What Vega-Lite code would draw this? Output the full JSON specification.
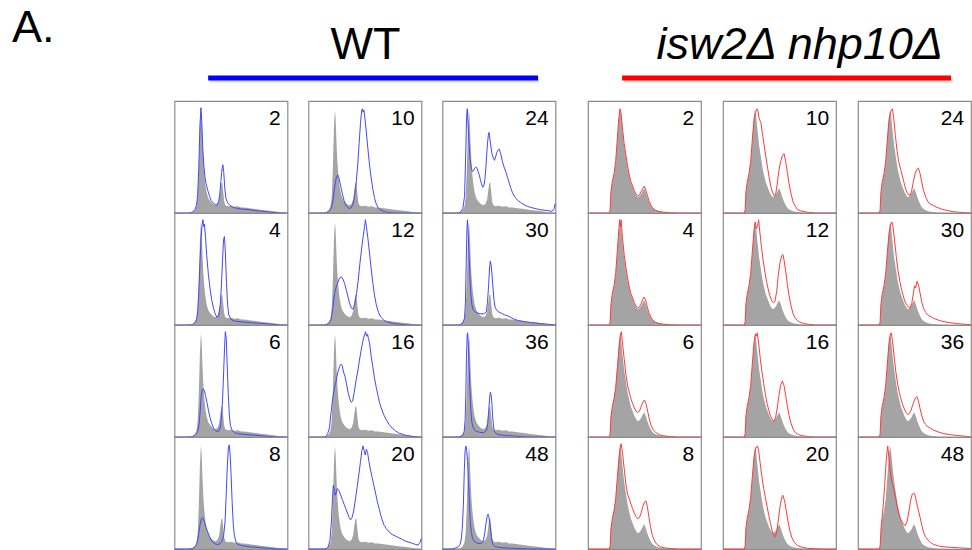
{
"$schema":"https://vega.github.io/schema/vega-lite/v6.json",
"background":"white",
"padding":{"left":12,"top":0,"right":0,"bottom":0},
"autosize":{"type":"pad"},
"spacing":0,
"config":{"view":{"continuousWidth":113,"continuousHeight":112,"stroke":"#8c8c8c","strokeWidth":1.2},"area":{"color":"#a4a4a4","opacity":1},"line":{"strokeWidth":1},"text":{"font":"Liberation Sans","color":"black","fontSize":21,"align":"right","baseline":"alphabetic"}},
"datasets":{
"wg":[{"x":0,"g":0},{"x":10,"g":0},{"x":14,"g":0.5},{"x":16,"g":1},{"x":18,"g":2.5},{"x":19.5,"g":6},{"x":20.5,"g":14},{"x":21.5,"g":38},{"x":22.5,"g":75},{"x":23.3,"g":92},{"x":24,"g":85},{"x":24.8,"g":62},{"x":25.6,"g":45},{"x":26.5,"g":33},{"x":27.5,"g":24},{"x":28.5,"g":18},{"x":30,"g":13},{"x":32,"g":10},{"x":34,"g":8},{"x":36,"g":7},{"x":38,"g":8},{"x":39.5,"g":12},{"x":40.5,"g":20},{"x":41.5,"g":27},{"x":42.3,"g":27},{"x":43.2,"g":18},{"x":44,"g":10},{"x":45,"g":7},{"x":47,"g":6},{"x":50,"g":6.5},{"x":53,"g":5.5},{"x":56,"g":6},{"x":59,"g":5},{"x":62,"g":5},{"x":65,"g":4.5},{"x":68,"g":4},{"x":72,"g":3.5},{"x":76,"g":3},{"x":80,"g":2.5},{"x":84,"g":2},{"x":88,"g":1.5},{"x":92,"g":1},{"x":96,"g":0.5},{"x":100,"g":0}],
"mg":[{"x":0,"g":0},{"x":19,"g":0},{"x":19.6,"g":3},{"x":20.3,"g":18},{"x":21.5,"g":27},{"x":23,"g":34},{"x":24.5,"g":45},{"x":26,"g":65},{"x":27.2,"g":82},{"x":28.3,"g":92},{"x":29.2,"g":88},{"x":30.5,"g":74},{"x":32,"g":60},{"x":33.5,"g":50},{"x":35,"g":40},{"x":36.5,"g":33},{"x":38,"g":27},{"x":39.5,"g":23},{"x":41,"g":19},{"x":42.5,"g":16},{"x":44,"g":14},{"x":45.5,"g":15},{"x":47,"g":17},{"x":48.5,"g":20},{"x":49.8,"g":22},{"x":51,"g":19},{"x":52.5,"g":14},{"x":54,"g":10},{"x":55.5,"g":7},{"x":57,"g":4.5},{"x":59,"g":3},{"x":62,"g":1.5},{"x":66,"g":0.8},{"x":72,"g":0.3},{"x":80,"g":0},{"x":100,"g":0}],
"wl":[
{"t":2,"x":0,"v":0},{"t":2,"x":14,"v":0},{"t":2,"x":16,"v":1},{"t":2,"x":18,"v":3},{"t":2,"x":19.5,"v":7},{"t":2,"x":20.5,"v":16},{"t":2,"x":21.5,"v":40},{"t":2,"x":22.5,"v":78},{"t":2,"x":23.4,"v":94},{"t":2,"x":24.2,"v":80},{"t":2,"x":25,"v":58},{"t":2,"x":26,"v":42},{"t":2,"x":27,"v":32},{"t":2,"x":28,"v":26},{"t":2,"x":29.5,"v":20},{"t":2,"x":31,"v":15},{"t":2,"x":32.5,"v":11},{"t":2,"x":34,"v":9},{"t":2,"x":36,"v":7.5},{"t":2,"x":37.5,"v":7},{"t":2,"x":39,"v":10},{"t":2,"x":40,"v":16},{"t":2,"x":41,"v":28},{"t":2,"x":42,"v":39},{"t":2,"x":42.8,"v":43},{"t":2,"x":43.6,"v":36},{"t":2,"x":44.5,"v":22},{"t":2,"x":45.5,"v":13},{"t":2,"x":47,"v":9},{"t":2,"x":49,"v":7},{"t":2,"x":52,"v":5},{"t":2,"x":56,"v":4},{"t":2,"x":60,"v":3.5},{"t":2,"x":66,"v":3},{"t":2,"x":72,"v":2},{"t":2,"x":78,"v":1.5},{"t":2,"x":84,"v":0.8},{"t":2,"x":90,"v":0.3},{"t":2,"x":95,"v":0},{"t":2,"x":100,"v":0},
{"t":4,"x":0,"v":0},{"t":4,"x":14,"v":0},{"t":4,"x":16,"v":0.5},{"t":4,"x":18,"v":2},{"t":4,"x":19.5,"v":5},{"t":4,"x":20.5,"v":12},{"t":4,"x":21.5,"v":30},{"t":4,"x":22.5,"v":55},{"t":4,"x":23.5,"v":78},{"t":4,"x":24.5,"v":90},{"t":4,"x":25.2,"v":94},{"t":4,"x":25.8,"v":88},{"t":4,"x":26.5,"v":90},{"t":4,"x":27.5,"v":78},{"t":4,"x":28.5,"v":62},{"t":4,"x":30,"v":45},{"t":4,"x":31.5,"v":32},{"t":4,"x":33,"v":22},{"t":4,"x":34.5,"v":15},{"t":4,"x":36,"v":10},{"t":4,"x":37.5,"v":7},{"t":4,"x":39,"v":8},{"t":4,"x":40.5,"v":18},{"t":4,"x":41.5,"v":35},{"t":4,"x":42.5,"v":58},{"t":4,"x":43.4,"v":76},{"t":4,"x":44.2,"v":79},{"t":4,"x":45,"v":65},{"t":4,"x":46,"v":38},{"t":4,"x":47,"v":18},{"t":4,"x":48,"v":9},{"t":4,"x":50,"v":5},{"t":4,"x":53,"v":3.5},{"t":4,"x":57,"v":3},{"t":4,"x":62,"v":2.5},{"t":4,"x":68,"v":2},{"t":4,"x":75,"v":1.5},{"t":4,"x":82,"v":1},{"t":4,"x":88,"v":0.5},{"t":4,"x":94,"v":0},{"t":4,"x":100,"v":0},
{"t":6,"x":0,"v":0},{"t":6,"x":14,"v":0},{"t":6,"x":16,"v":0.5},{"t":6,"x":18,"v":1.5},{"t":6,"x":19.5,"v":3},{"t":6,"x":20.5,"v":5},{"t":6,"x":21.5,"v":10},{"t":6,"x":22.5,"v":20},{"t":6,"x":23.5,"v":35},{"t":6,"x":24.5,"v":42},{"t":6,"x":25.5,"v":43},{"t":6,"x":26.5,"v":41},{"t":6,"x":27.5,"v":37},{"t":6,"x":28.5,"v":32},{"t":6,"x":30,"v":24},{"t":6,"x":31.5,"v":17},{"t":6,"x":33,"v":12},{"t":6,"x":34.5,"v":8},{"t":6,"x":36,"v":6},{"t":6,"x":37.5,"v":5},{"t":6,"x":39,"v":5},{"t":6,"x":40.5,"v":8},{"t":6,"x":41.5,"v":16},{"t":6,"x":42.5,"v":32},{"t":6,"x":43.5,"v":58},{"t":6,"x":44.3,"v":80},{"t":6,"x":45,"v":94},{"t":6,"x":45.8,"v":88},{"t":6,"x":46.6,"v":65},{"t":6,"x":47.5,"v":40},{"t":6,"x":48.5,"v":20},{"t":6,"x":49.5,"v":10},{"t":6,"x":51,"v":6},{"t":6,"x":53,"v":4},{"t":6,"x":56,"v":3},{"t":6,"x":60,"v":2.5},{"t":6,"x":66,"v":2},{"t":6,"x":72,"v":1.5},{"t":6,"x":78,"v":1},{"t":6,"x":84,"v":0.5},{"t":6,"x":90,"v":0},{"t":6,"x":100,"v":0},
{"t":8,"x":0,"v":0},{"t":8,"x":14,"v":0},{"t":8,"x":16,"v":0.5},{"t":8,"x":18,"v":2},{"t":8,"x":19.5,"v":4},{"t":8,"x":20.5,"v":8},{"t":8,"x":21.5,"v":14},{"t":8,"x":22.5,"v":21},{"t":8,"x":23.5,"v":26},{"t":8,"x":24.5,"v":28},{"t":8,"x":25.5,"v":27},{"t":8,"x":26.5,"v":24},{"t":8,"x":28,"v":19},{"t":8,"x":29.5,"v":15},{"t":8,"x":31,"v":11},{"t":8,"x":32.5,"v":8},{"t":8,"x":34,"v":6},{"t":8,"x":36,"v":4.5},{"t":8,"x":38,"v":4},{"t":8,"x":40,"v":4.5},{"t":8,"x":42,"v":7},{"t":8,"x":43.5,"v":12},{"t":8,"x":44.8,"v":25},{"t":8,"x":45.8,"v":50},{"t":8,"x":46.8,"v":75},{"t":8,"x":47.7,"v":90},{"t":8,"x":48.4,"v":93},{"t":8,"x":49.2,"v":85},{"t":8,"x":50,"v":68},{"t":8,"x":51,"v":42},{"t":8,"x":52,"v":22},{"t":8,"x":53,"v":12},{"t":8,"x":54.5,"v":6},{"t":8,"x":56,"v":4},{"t":8,"x":60,"v":3},{"t":8,"x":66,"v":2},{"t":8,"x":72,"v":1.5},{"t":8,"x":78,"v":1},{"t":8,"x":84,"v":0.5},{"t":8,"x":90,"v":0},{"t":8,"x":100,"v":0},
{"t":10,"x":0,"v":0},{"t":10,"x":14,"v":0},{"t":10,"x":16,"v":0.5},{"t":10,"x":18,"v":1.5},{"t":10,"x":20,"v":4},{"t":10,"x":21.5,"v":10},{"t":10,"x":23,"v":22},{"t":10,"x":24.5,"v":31},{"t":10,"x":25.8,"v":34},{"t":10,"x":27,"v":31},{"t":10,"x":28.5,"v":24},{"t":10,"x":30,"v":17},{"t":10,"x":31.5,"v":11},{"t":10,"x":33,"v":7},{"t":10,"x":34.5,"v":5},{"t":10,"x":36,"v":4},{"t":10,"x":37.5,"v":4.5},{"t":10,"x":39,"v":7},{"t":10,"x":40.5,"v":13},{"t":10,"x":42,"v":25},{"t":10,"x":43.5,"v":42},{"t":10,"x":44.8,"v":62},{"t":10,"x":46,"v":80},{"t":10,"x":47,"v":91},{"t":10,"x":47.6,"v":93},{"t":10,"x":48.3,"v":90},{"t":10,"x":49,"v":92},{"t":10,"x":50,"v":84},{"t":10,"x":51,"v":74},{"t":10,"x":52.5,"v":58},{"t":10,"x":54,"v":43},{"t":10,"x":55.5,"v":31},{"t":10,"x":57,"v":21},{"t":10,"x":58.5,"v":13},{"t":10,"x":60,"v":8},{"t":10,"x":62,"v":4},{"t":10,"x":65,"v":2},{"t":10,"x":68,"v":1},{"t":10,"x":72,"v":0.3},{"t":10,"x":78,"v":0},{"t":10,"x":100,"v":0},
{"t":12,"x":0,"v":0},{"t":12,"x":14,"v":0},{"t":12,"x":16,"v":0.5},{"t":12,"x":18,"v":1.5},{"t":12,"x":20,"v":5},{"t":12,"x":21.5,"v":15},{"t":12,"x":23,"v":28},{"t":12,"x":24.5,"v":34},{"t":12,"x":26,"v":38},{"t":12,"x":27.5,"v":42},{"t":12,"x":29,"v":43},{"t":12,"x":30.5,"v":41},{"t":12,"x":32,"v":37},{"t":12,"x":33.5,"v":31},{"t":12,"x":35,"v":25},{"t":12,"x":36.5,"v":19},{"t":12,"x":38,"v":15},{"t":12,"x":39.5,"v":14},{"t":12,"x":41,"v":19},{"t":12,"x":42.5,"v":28},{"t":12,"x":44,"v":40},{"t":12,"x":45.5,"v":55},{"t":12,"x":47,"v":68},{"t":12,"x":48.5,"v":80},{"t":12,"x":49.5,"v":87},{"t":12,"x":50.4,"v":94},{"t":12,"x":51.2,"v":88},{"t":12,"x":52.5,"v":78},{"t":12,"x":54,"v":64},{"t":12,"x":55.5,"v":50},{"t":12,"x":57,"v":37},{"t":12,"x":58.5,"v":26},{"t":12,"x":60,"v":18},{"t":12,"x":62,"v":11},{"t":12,"x":64,"v":7},{"t":12,"x":67,"v":4},{"t":12,"x":70,"v":2.5},{"t":12,"x":74,"v":1.5},{"t":12,"x":78,"v":1},{"t":12,"x":82,"v":0.5},{"t":12,"x":88,"v":0},{"t":12,"x":100,"v":0},
{"t":16,"x":0,"v":0},{"t":16,"x":14,"v":0},{"t":16,"x":15.5,"v":0.5},{"t":16,"x":17,"v":3},{"t":16,"x":18.5,"v":8},{"t":16,"x":20,"v":22},{"t":16,"x":21.5,"v":35},{"t":16,"x":23,"v":44},{"t":16,"x":24.5,"v":50},{"t":16,"x":26,"v":58},{"t":16,"x":27.5,"v":63},{"t":16,"x":28.7,"v":65},{"t":16,"x":29.8,"v":64},{"t":16,"x":31,"v":58},{"t":16,"x":32.3,"v":54},{"t":16,"x":33.5,"v":48},{"t":16,"x":35,"v":40},{"t":16,"x":36.5,"v":34},{"t":16,"x":38,"v":31},{"t":16,"x":39,"v":32},{"t":16,"x":40.5,"v":40},{"t":16,"x":42,"v":50},{"t":16,"x":43.5,"v":58},{"t":16,"x":45,"v":68},{"t":16,"x":46.5,"v":77},{"t":16,"x":48,"v":85},{"t":16,"x":49.5,"v":91},{"t":16,"x":50.5,"v":94},{"t":16,"x":51.3,"v":90},{"t":16,"x":52.2,"v":92},{"t":16,"x":53,"v":88},{"t":16,"x":54,"v":84},{"t":16,"x":55.5,"v":72},{"t":16,"x":57,"v":62},{"t":16,"x":58.5,"v":52},{"t":16,"x":60,"v":44},{"t":16,"x":61.5,"v":37},{"t":16,"x":63,"v":30},{"t":16,"x":65,"v":24},{"t":16,"x":67,"v":19},{"t":16,"x":69,"v":15},{"t":16,"x":71.5,"v":11},{"t":16,"x":74,"v":8},{"t":16,"x":77,"v":5.5},{"t":16,"x":80,"v":3.5},{"t":16,"x":83,"v":2.5},{"t":16,"x":86,"v":1.5},{"t":16,"x":90,"v":0.8},{"t":16,"x":94,"v":0.3},{"t":16,"x":97,"v":0},{"t":16,"x":100,"v":0},
{"t":20,"x":0,"v":0},{"t":20,"x":14,"v":0},{"t":20,"x":16,"v":0.5},{"t":20,"x":17.5,"v":2},{"t":20,"x":19,"v":8},{"t":20,"x":20.3,"v":25},{"t":20,"x":21.2,"v":45},{"t":20,"x":22,"v":57},{"t":20,"x":22.8,"v":52},{"t":20,"x":23.6,"v":48},{"t":20,"x":24.5,"v":50},{"t":20,"x":25.5,"v":54},{"t":20,"x":26.5,"v":53},{"t":20,"x":27.5,"v":51},{"t":20,"x":28.5,"v":48},{"t":20,"x":30,"v":44},{"t":20,"x":31.5,"v":40},{"t":20,"x":33,"v":36},{"t":20,"x":34.5,"v":32},{"t":20,"x":36,"v":28},{"t":20,"x":37.2,"v":26},{"t":20,"x":38.5,"v":28},{"t":20,"x":40,"v":34},{"t":20,"x":41.5,"v":44},{"t":20,"x":43,"v":55},{"t":20,"x":44.5,"v":66},{"t":20,"x":46,"v":78},{"t":20,"x":47.3,"v":88},{"t":20,"x":48.2,"v":92},{"t":20,"x":49.2,"v":88},{"t":20,"x":50.2,"v":84},{"t":20,"x":51.2,"v":89},{"t":20,"x":52.3,"v":86},{"t":20,"x":53.5,"v":78},{"t":20,"x":55,"v":70},{"t":20,"x":56.5,"v":63},{"t":20,"x":58,"v":56},{"t":20,"x":59.5,"v":49},{"t":20,"x":61,"v":42},{"t":20,"x":62.5,"v":36},{"t":20,"x":64,"v":30},{"t":20,"x":65.5,"v":25},{"t":20,"x":67,"v":21},{"t":20,"x":69,"v":18},{"t":20,"x":71.5,"v":15},{"t":20,"x":74,"v":13},{"t":20,"x":77,"v":11.5},{"t":20,"x":80,"v":10},{"t":20,"x":83,"v":8.5},{"t":20,"x":86,"v":7},{"t":20,"x":89,"v":6},{"t":20,"x":92,"v":5},{"t":20,"x":95,"v":4},{"t":20,"x":97,"v":3.5},{"t":20,"x":98.8,"v":6},{"t":20,"x":99.6,"v":9},{"t":20,"x":100,"v":9},
{"t":24,"x":0,"v":0},{"t":24,"x":14,"v":0},{"t":24,"x":16,"v":1},{"t":24,"x":18,"v":4},{"t":24,"x":19.5,"v":15},{"t":24,"x":20.5,"v":50},{"t":24,"x":21.3,"v":85},{"t":24,"x":21.9,"v":93},{"t":24,"x":22.6,"v":80},{"t":24,"x":23.5,"v":62},{"t":24,"x":24.5,"v":48},{"t":24,"x":25.5,"v":40},{"t":24,"x":26.5,"v":37},{"t":24,"x":27.5,"v":38},{"t":24,"x":28.5,"v":40},{"t":24,"x":29.5,"v":41},{"t":24,"x":30.5,"v":40},{"t":24,"x":31.5,"v":37},{"t":24,"x":32.5,"v":34},{"t":24,"x":33.5,"v":30},{"t":24,"x":34.5,"v":26},{"t":24,"x":35.5,"v":23},{"t":24,"x":36.5,"v":24},{"t":24,"x":37.5,"v":30},{"t":24,"x":38.5,"v":42},{"t":24,"x":39.5,"v":58},{"t":24,"x":40.5,"v":69},{"t":24,"x":41.2,"v":72},{"t":24,"x":42,"v":66},{"t":24,"x":43,"v":58},{"t":24,"x":44,"v":52},{"t":24,"x":45,"v":49},{"t":24,"x":46,"v":47},{"t":24,"x":47,"v":50},{"t":24,"x":48,"v":54},{"t":24,"x":49,"v":56},{"t":24,"x":50.2,"v":57},{"t":24,"x":51.5,"v":53},{"t":24,"x":53,"v":46},{"t":24,"x":54.5,"v":41},{"t":24,"x":56,"v":37},{"t":24,"x":57.5,"v":32},{"t":24,"x":59,"v":27},{"t":24,"x":60.5,"v":22},{"t":24,"x":62,"v":18},{"t":24,"x":63.5,"v":15},{"t":24,"x":65,"v":13},{"t":24,"x":67,"v":11},{"t":24,"x":69,"v":9.5},{"t":24,"x":72,"v":7.5},{"t":24,"x":75,"v":6},{"t":24,"x":78,"v":5},{"t":24,"x":82,"v":4},{"t":24,"x":86,"v":3},{"t":24,"x":90,"v":2.5},{"t":24,"x":94,"v":2},{"t":24,"x":97,"v":1.5},{"t":24,"x":98.8,"v":4},{"t":24,"x":99.6,"v":8},{"t":24,"x":100,"v":8},
{"t":30,"x":0,"v":0},{"t":30,"x":14,"v":0},{"t":30,"x":16,"v":0.5},{"t":30,"x":18,"v":2},{"t":30,"x":19.5,"v":6},{"t":30,"x":20.3,"v":20},{"t":30,"x":21,"v":55},{"t":30,"x":21.6,"v":85},{"t":30,"x":22.1,"v":94},{"t":30,"x":22.8,"v":80},{"t":30,"x":23.6,"v":60},{"t":30,"x":24.4,"v":40},{"t":30,"x":25.2,"v":26},{"t":30,"x":26,"v":18},{"t":30,"x":27,"v":14},{"t":30,"x":28.5,"v":12},{"t":30,"x":30,"v":11},{"t":30,"x":32,"v":10.5},{"t":30,"x":34,"v":10},{"t":30,"x":36,"v":10},{"t":30,"x":37.5,"v":10.5},{"t":30,"x":38.8,"v":12},{"t":30,"x":39.8,"v":20},{"t":30,"x":40.8,"v":35},{"t":30,"x":41.6,"v":50},{"t":30,"x":42.3,"v":57},{"t":30,"x":43,"v":54},{"t":30,"x":43.8,"v":45},{"t":30,"x":44.7,"v":33},{"t":30,"x":45.6,"v":22},{"t":30,"x":46.5,"v":16},{"t":30,"x":48,"v":13},{"t":30,"x":50,"v":11.5},{"t":30,"x":52,"v":10.5},{"t":30,"x":55,"v":9},{"t":30,"x":58,"v":8},{"t":30,"x":61,"v":6.5},{"t":30,"x":64,"v":5},{"t":30,"x":67,"v":4},{"t":30,"x":70,"v":3.5},{"t":30,"x":74,"v":2.8},{"t":30,"x":78,"v":2.2},{"t":30,"x":82,"v":1.8},{"t":30,"x":86,"v":1.3},{"t":30,"x":90,"v":1},{"t":30,"x":94,"v":0.6},{"t":30,"x":97,"v":0.4},{"t":30,"x":100,"v":0},
{"t":36,"x":0,"v":0},{"t":36,"x":14,"v":0},{"t":36,"x":16,"v":0.5},{"t":36,"x":18,"v":1.5},{"t":36,"x":19.2,"v":5},{"t":36,"x":20,"v":15},{"t":36,"x":20.6,"v":35},{"t":36,"x":21.2,"v":70},{"t":36,"x":21.8,"v":90},{"t":36,"x":22.2,"v":93},{"t":36,"x":22.8,"v":82},{"t":36,"x":23.6,"v":60},{"t":36,"x":24.4,"v":40},{"t":36,"x":25.2,"v":22},{"t":36,"x":26,"v":13},{"t":36,"x":27,"v":9},{"t":36,"x":28.5,"v":6},{"t":36,"x":30,"v":5},{"t":36,"x":32,"v":4.5},{"t":36,"x":34,"v":4},{"t":36,"x":36,"v":4},{"t":36,"x":37.5,"v":4.5},{"t":36,"x":39,"v":6},{"t":36,"x":40,"v":12},{"t":36,"x":41,"v":25},{"t":36,"x":41.8,"v":36},{"t":36,"x":42.4,"v":40},{"t":36,"x":43,"v":38},{"t":36,"x":43.7,"v":30},{"t":36,"x":44.4,"v":18},{"t":36,"x":45.2,"v":9},{"t":36,"x":46,"v":5},{"t":36,"x":47.5,"v":3},{"t":36,"x":50,"v":2},{"t":36,"x":54,"v":1.5},{"t":36,"x":58,"v":1.2},{"t":36,"x":62,"v":1},{"t":36,"x":66,"v":0.6},{"t":36,"x":70,"v":0.3},{"t":36,"x":74,"v":0},{"t":36,"x":100,"v":0},
{"t":48,"x":0,"v":0},{"t":48,"x":8,"v":0},{"t":48,"x":10,"v":0.5},{"t":48,"x":12,"v":1},{"t":48,"x":14,"v":2},{"t":48,"x":15.5,"v":4},{"t":48,"x":16.5,"v":8},{"t":48,"x":17.5,"v":18},{"t":48,"x":18.5,"v":40},{"t":48,"x":19.3,"v":70},{"t":48,"x":20,"v":88},{"t":48,"x":20.7,"v":92},{"t":48,"x":21.4,"v":88},{"t":48,"x":22.2,"v":78},{"t":48,"x":23,"v":60},{"t":48,"x":23.8,"v":40},{"t":48,"x":24.6,"v":24},{"t":48,"x":25.5,"v":15},{"t":48,"x":26.5,"v":10},{"t":48,"x":28,"v":7},{"t":48,"x":30,"v":5.5},{"t":48,"x":32,"v":5},{"t":48,"x":34,"v":5},{"t":48,"x":35.5,"v":6},{"t":48,"x":36.5,"v":9},{"t":48,"x":37.5,"v":15},{"t":48,"x":38.5,"v":23},{"t":48,"x":39.5,"v":29},{"t":48,"x":40.3,"v":31},{"t":48,"x":41,"v":29},{"t":48,"x":41.8,"v":24},{"t":48,"x":42.6,"v":17},{"t":48,"x":43.4,"v":10},{"t":48,"x":44.2,"v":5},{"t":48,"x":45.5,"v":3},{"t":48,"x":47,"v":2},{"t":48,"x":50,"v":1.5},{"t":48,"x":55,"v":1},{"t":48,"x":60,"v":0.8},{"t":48,"x":66,"v":0.5},{"t":48,"x":72,"v":0.2},{"t":48,"x":78,"v":0},{"t":48,"x":100,"v":0}
],
"ml":[
{"t":2,"x":0,"v":0},{"t":2,"x":19,"v":0},{"t":2,"x":19.6,"v":3},{"t":2,"x":20.3,"v":19},{"t":2,"x":21.5,"v":28},{"t":2,"x":23,"v":35},{"t":2,"x":24.5,"v":46},{"t":2,"x":26,"v":67},{"t":2,"x":27.2,"v":84},{"t":2,"x":28.3,"v":93},{"t":2,"x":29.2,"v":90},{"t":2,"x":30.5,"v":76},{"t":2,"x":32,"v":62},{"t":2,"x":33.5,"v":52},{"t":2,"x":35,"v":42},{"t":2,"x":36.5,"v":34},{"t":2,"x":38,"v":28},{"t":2,"x":39.5,"v":24},{"t":2,"x":41,"v":20},{"t":2,"x":42.5,"v":17},{"t":2,"x":44,"v":15},{"t":2,"x":45.5,"v":16},{"t":2,"x":47,"v":19},{"t":2,"x":48.5,"v":22},{"t":2,"x":49.8,"v":24},{"t":2,"x":51,"v":21},{"t":2,"x":52.5,"v":16},{"t":2,"x":54,"v":11},{"t":2,"x":55.5,"v":7.5},{"t":2,"x":57,"v":5},{"t":2,"x":59,"v":3},{"t":2,"x":62,"v":1.5},{"t":2,"x":66,"v":0.8},{"t":2,"x":72,"v":0.3},{"t":2,"x":80,"v":0},{"t":2,"x":100,"v":0},
{"t":4,"x":0,"v":0},{"t":4,"x":19,"v":0},{"t":4,"x":19.6,"v":3},{"t":4,"x":20.3,"v":18},{"t":4,"x":21.5,"v":28},{"t":4,"x":23,"v":35},{"t":4,"x":24.5,"v":46},{"t":4,"x":26,"v":67},{"t":4,"x":27.3,"v":86},{"t":4,"x":28,"v":94},{"t":4,"x":28.6,"v":88},{"t":4,"x":29.3,"v":94},{"t":4,"x":30.5,"v":78},{"t":4,"x":32,"v":63},{"t":4,"x":33.5,"v":52},{"t":4,"x":35,"v":42},{"t":4,"x":36.5,"v":34},{"t":4,"x":38,"v":28},{"t":4,"x":39.5,"v":24},{"t":4,"x":41,"v":20},{"t":4,"x":42.5,"v":17},{"t":4,"x":44,"v":15},{"t":4,"x":45.5,"v":16},{"t":4,"x":47,"v":19},{"t":4,"x":48.5,"v":23},{"t":4,"x":49.8,"v":25},{"t":4,"x":51,"v":22},{"t":4,"x":52.5,"v":16},{"t":4,"x":54,"v":11},{"t":4,"x":55.5,"v":7.5},{"t":4,"x":57,"v":5},{"t":4,"x":59,"v":3},{"t":4,"x":62,"v":1.5},{"t":4,"x":66,"v":0.8},{"t":4,"x":72,"v":0.3},{"t":4,"x":80,"v":0},{"t":4,"x":100,"v":0},
{"t":6,"x":0,"v":0},{"t":6,"x":19,"v":0},{"t":6,"x":19.6,"v":3},{"t":6,"x":20.3,"v":18},{"t":6,"x":21.5,"v":27},{"t":6,"x":23,"v":34},{"t":6,"x":24.5,"v":44},{"t":6,"x":26,"v":62},{"t":6,"x":27.5,"v":80},{"t":6,"x":28.5,"v":90},{"t":6,"x":29.5,"v":94},{"t":6,"x":30.5,"v":84},{"t":6,"x":32,"v":70},{"t":6,"x":33.5,"v":56},{"t":6,"x":35,"v":46},{"t":6,"x":36.5,"v":40},{"t":6,"x":38,"v":34},{"t":6,"x":39.5,"v":30},{"t":6,"x":41,"v":26},{"t":6,"x":42.5,"v":23},{"t":6,"x":44,"v":22},{"t":6,"x":45.5,"v":23},{"t":6,"x":47,"v":27},{"t":6,"x":48.5,"v":31},{"t":6,"x":50,"v":33},{"t":6,"x":51.5,"v":29},{"t":6,"x":53,"v":22},{"t":6,"x":54.5,"v":15},{"t":6,"x":56,"v":10},{"t":6,"x":58,"v":6},{"t":6,"x":60,"v":4},{"t":6,"x":63,"v":2},{"t":6,"x":67,"v":1},{"t":6,"x":73,"v":0.4},{"t":6,"x":80,"v":0},{"t":6,"x":100,"v":0},
{"t":8,"x":0,"v":0},{"t":8,"x":19,"v":0},{"t":8,"x":19.6,"v":3},{"t":8,"x":20.3,"v":18},{"t":8,"x":21.5,"v":27},{"t":8,"x":23,"v":34},{"t":8,"x":24.5,"v":45},{"t":8,"x":26,"v":64},{"t":8,"x":27.5,"v":82},{"t":8,"x":28.5,"v":91},{"t":8,"x":29.3,"v":94},{"t":8,"x":30.5,"v":86},{"t":8,"x":32,"v":72},{"t":8,"x":33.5,"v":58},{"t":8,"x":35,"v":49},{"t":8,"x":36.5,"v":45},{"t":8,"x":38,"v":40},{"t":8,"x":39.5,"v":36},{"t":8,"x":41,"v":32},{"t":8,"x":42.5,"v":29},{"t":8,"x":44,"v":27},{"t":8,"x":45.5,"v":28},{"t":8,"x":47,"v":32},{"t":8,"x":48.5,"v":38},{"t":8,"x":50,"v":42},{"t":8,"x":51.3,"v":43},{"t":8,"x":52.5,"v":38},{"t":8,"x":54,"v":28},{"t":8,"x":55.5,"v":19},{"t":8,"x":57,"v":12},{"t":8,"x":59,"v":7},{"t":8,"x":61,"v":4},{"t":8,"x":64,"v":2},{"t":8,"x":68,"v":1},{"t":8,"x":74,"v":0.3},{"t":8,"x":80,"v":0},{"t":8,"x":100,"v":0},
{"t":10,"x":0,"v":0},{"t":10,"x":19,"v":0},{"t":10,"x":19.6,"v":3},{"t":10,"x":20.3,"v":19},{"t":10,"x":21.5,"v":28},{"t":10,"x":23,"v":35},{"t":10,"x":24.5,"v":46},{"t":10,"x":26,"v":66},{"t":10,"x":27.5,"v":84},{"t":10,"x":28.7,"v":90},{"t":10,"x":30,"v":93},{"t":10,"x":31,"v":91},{"t":10,"x":32,"v":84},{"t":10,"x":33.5,"v":81},{"t":10,"x":35,"v":70},{"t":10,"x":36.5,"v":60},{"t":10,"x":38,"v":50},{"t":10,"x":39.5,"v":40},{"t":10,"x":41,"v":31},{"t":10,"x":42.5,"v":23},{"t":10,"x":44,"v":18},{"t":10,"x":45.5,"v":15},{"t":10,"x":46.5,"v":16},{"t":10,"x":48,"v":26},{"t":10,"x":49.5,"v":38},{"t":10,"x":51,"v":46},{"t":10,"x":52.5,"v":51},{"t":10,"x":54,"v":53},{"t":10,"x":55.5,"v":46},{"t":10,"x":57,"v":36},{"t":10,"x":58.5,"v":26},{"t":10,"x":60,"v":18},{"t":10,"x":62,"v":10},{"t":10,"x":64,"v":6},{"t":10,"x":66,"v":3},{"t":10,"x":70,"v":1.5},{"t":10,"x":76,"v":0.5},{"t":10,"x":82,"v":0},{"t":10,"x":100,"v":0},
{"t":12,"x":0,"v":0},{"t":12,"x":19,"v":0},{"t":12,"x":19.6,"v":3},{"t":12,"x":20.3,"v":19},{"t":12,"x":21.5,"v":28},{"t":12,"x":23,"v":35},{"t":12,"x":24.5,"v":46},{"t":12,"x":26,"v":66},{"t":12,"x":27.5,"v":85},{"t":12,"x":28.5,"v":92},{"t":12,"x":29.5,"v":86},{"t":12,"x":30.5,"v":88},{"t":12,"x":31.5,"v":94},{"t":12,"x":32.5,"v":84},{"t":12,"x":34,"v":70},{"t":12,"x":35.5,"v":58},{"t":12,"x":37,"v":48},{"t":12,"x":38.5,"v":39},{"t":12,"x":40,"v":32},{"t":12,"x":41.5,"v":26},{"t":12,"x":43,"v":22},{"t":12,"x":44.5,"v":20},{"t":12,"x":46,"v":21},{"t":12,"x":47.5,"v":30},{"t":12,"x":49,"v":45},{"t":12,"x":50.5,"v":56},{"t":12,"x":52,"v":62},{"t":12,"x":53,"v":63},{"t":12,"x":54,"v":58},{"t":12,"x":55.5,"v":48},{"t":12,"x":57,"v":36},{"t":12,"x":58.5,"v":26},{"t":12,"x":60,"v":18},{"t":12,"x":62,"v":10},{"t":12,"x":64,"v":6},{"t":12,"x":67,"v":3},{"t":12,"x":71,"v":1.5},{"t":12,"x":76,"v":0.5},{"t":12,"x":82,"v":0},{"t":12,"x":100,"v":0},
{"t":16,"x":0,"v":0},{"t":16,"x":19,"v":0},{"t":16,"x":19.6,"v":3},{"t":16,"x":20.3,"v":19},{"t":16,"x":21.5,"v":28},{"t":16,"x":23,"v":35},{"t":16,"x":24.5,"v":46},{"t":16,"x":26,"v":66},{"t":16,"x":27.5,"v":85},{"t":16,"x":28.7,"v":92},{"t":16,"x":29.5,"v":90},{"t":16,"x":30.3,"v":93},{"t":16,"x":31.5,"v":84},{"t":16,"x":33,"v":70},{"t":16,"x":34.5,"v":58},{"t":16,"x":36,"v":48},{"t":16,"x":37.5,"v":38},{"t":16,"x":39,"v":30},{"t":16,"x":40.5,"v":24},{"t":16,"x":42,"v":19},{"t":16,"x":43.5,"v":16},{"t":16,"x":45,"v":14},{"t":16,"x":46.5,"v":17},{"t":16,"x":48,"v":26},{"t":16,"x":49.5,"v":37},{"t":16,"x":51,"v":46},{"t":16,"x":52.5,"v":50},{"t":16,"x":54,"v":46},{"t":16,"x":55.5,"v":37},{"t":16,"x":57,"v":27},{"t":16,"x":58.5,"v":19},{"t":16,"x":60,"v":13},{"t":16,"x":62,"v":7},{"t":16,"x":64,"v":4},{"t":16,"x":67,"v":2},{"t":16,"x":71,"v":1},{"t":16,"x":76,"v":0.3},{"t":16,"x":82,"v":0},{"t":16,"x":100,"v":0},
{"t":20,"x":0,"v":0},{"t":20,"x":19,"v":0},{"t":20,"x":19.6,"v":3},{"t":20,"x":20.3,"v":19},{"t":20,"x":21.5,"v":28},{"t":20,"x":23,"v":35},{"t":20,"x":24.5,"v":46},{"t":20,"x":26,"v":65},{"t":20,"x":27.5,"v":82},{"t":20,"x":29,"v":90},{"t":20,"x":30.5,"v":92},{"t":20,"x":31.5,"v":88},{"t":20,"x":33,"v":76},{"t":20,"x":34.5,"v":64},{"t":20,"x":36,"v":54},{"t":20,"x":37.5,"v":46},{"t":20,"x":39,"v":38},{"t":20,"x":40.5,"v":30},{"t":20,"x":42,"v":23},{"t":20,"x":43.5,"v":16},{"t":20,"x":45,"v":12},{"t":20,"x":46.3,"v":11},{"t":20,"x":47.5,"v":15},{"t":20,"x":49,"v":26},{"t":20,"x":50.5,"v":38},{"t":20,"x":52,"v":46},{"t":20,"x":53,"v":48},{"t":20,"x":54.5,"v":43},{"t":20,"x":56,"v":34},{"t":20,"x":57.5,"v":25},{"t":20,"x":59,"v":17},{"t":20,"x":61,"v":10},{"t":20,"x":63,"v":6},{"t":20,"x":66,"v":3},{"t":20,"x":70,"v":1.5},{"t":20,"x":75,"v":0.6},{"t":20,"x":82,"v":0.2},{"t":20,"x":90,"v":0},{"t":20,"x":100,"v":0},
{"t":24,"x":0,"v":0},{"t":24,"x":19,"v":0},{"t":24,"x":19.6,"v":3},{"t":24,"x":20.3,"v":19},{"t":24,"x":21.5,"v":28},{"t":24,"x":23,"v":35},{"t":24,"x":24.5,"v":46},{"t":24,"x":26,"v":66},{"t":24,"x":27.5,"v":84},{"t":24,"x":29,"v":91},{"t":24,"x":30.4,"v":93},{"t":24,"x":31.5,"v":86},{"t":24,"x":33,"v":70},{"t":24,"x":34.5,"v":56},{"t":24,"x":36,"v":46},{"t":24,"x":37.5,"v":40},{"t":24,"x":39,"v":34},{"t":24,"x":40.5,"v":28},{"t":24,"x":42,"v":22},{"t":24,"x":43.5,"v":18},{"t":24,"x":45,"v":16},{"t":24,"x":46.3,"v":16},{"t":24,"x":47.5,"v":20},{"t":24,"x":49,"v":28},{"t":24,"x":50.5,"v":35},{"t":24,"x":52,"v":39},{"t":24,"x":53.4,"v":40},{"t":24,"x":55,"v":35},{"t":24,"x":56.5,"v":27},{"t":24,"x":58,"v":20},{"t":24,"x":60,"v":14},{"t":24,"x":62,"v":10},{"t":24,"x":64,"v":8},{"t":24,"x":67,"v":6.5},{"t":24,"x":70,"v":5},{"t":24,"x":74,"v":3.5},{"t":24,"x":78,"v":2.5},{"t":24,"x":84,"v":1.2},{"t":24,"x":90,"v":0.6},{"t":24,"x":96,"v":0.2},{"t":24,"x":100,"v":0},
{"t":30,"x":0,"v":0},{"t":30,"x":19,"v":0},{"t":30,"x":19.6,"v":3},{"t":30,"x":20.3,"v":19},{"t":30,"x":21.5,"v":28},{"t":30,"x":23,"v":35},{"t":30,"x":24.5,"v":46},{"t":30,"x":26,"v":65},{"t":30,"x":27.5,"v":82},{"t":30,"x":29,"v":90},{"t":30,"x":30,"v":92},{"t":30,"x":31,"v":88},{"t":30,"x":32.5,"v":74},{"t":30,"x":34,"v":60},{"t":30,"x":35.5,"v":48},{"t":30,"x":37,"v":39},{"t":30,"x":38.5,"v":32},{"t":30,"x":40,"v":26},{"t":30,"x":41.5,"v":21},{"t":30,"x":43,"v":18},{"t":30,"x":44.5,"v":16},{"t":30,"x":46,"v":15},{"t":30,"x":47.5,"v":19},{"t":30,"x":49,"v":28},{"t":30,"x":50,"v":35},{"t":30,"x":51,"v":33},{"t":30,"x":52.2,"v":39},{"t":30,"x":53.5,"v":36},{"t":30,"x":55,"v":28},{"t":30,"x":56.5,"v":20},{"t":30,"x":58,"v":15},{"t":30,"x":60,"v":11},{"t":30,"x":62,"v":9},{"t":30,"x":65,"v":7},{"t":30,"x":68,"v":5.5},{"t":30,"x":72,"v":4},{"t":30,"x":76,"v":3},{"t":30,"x":82,"v":2},{"t":30,"x":88,"v":1.2},{"t":30,"x":94,"v":0.7},{"t":30,"x":99,"v":0.4},{"t":30,"x":100,"v":0},
{"t":36,"x":0,"v":0},{"t":36,"x":19,"v":0},{"t":36,"x":19.6,"v":3},{"t":36,"x":20.3,"v":19},{"t":36,"x":21.5,"v":28},{"t":36,"x":23,"v":35},{"t":36,"x":24.5,"v":46},{"t":36,"x":26,"v":66},{"t":36,"x":27.5,"v":85},{"t":36,"x":28.7,"v":92},{"t":36,"x":29.5,"v":93},{"t":36,"x":30.5,"v":86},{"t":36,"x":32,"v":72},{"t":36,"x":33.5,"v":58},{"t":36,"x":35,"v":48},{"t":36,"x":36.5,"v":40},{"t":36,"x":38,"v":34},{"t":36,"x":39.5,"v":29},{"t":36,"x":41,"v":25},{"t":36,"x":42.5,"v":22},{"t":36,"x":44,"v":20},{"t":36,"x":45.5,"v":21},{"t":36,"x":47,"v":24},{"t":36,"x":48.5,"v":29},{"t":36,"x":50,"v":33},{"t":36,"x":51,"v":35},{"t":36,"x":52.2,"v":36},{"t":36,"x":53.5,"v":32},{"t":36,"x":55,"v":25},{"t":36,"x":56.5,"v":19},{"t":36,"x":58,"v":14},{"t":36,"x":60,"v":11},{"t":36,"x":62,"v":9},{"t":36,"x":64,"v":8},{"t":36,"x":67,"v":6},{"t":36,"x":71,"v":4.5},{"t":36,"x":76,"v":3},{"t":36,"x":82,"v":2},{"t":36,"x":88,"v":1.3},{"t":36,"x":94,"v":0.8},{"t":36,"x":100,"v":0},
{"t":48,"x":0,"v":0},{"t":48,"x":19,"v":0},{"t":48,"x":19.6,"v":3},{"t":48,"x":20.5,"v":20},{"t":48,"x":22,"v":35},{"t":48,"x":23.5,"v":55},{"t":48,"x":25,"v":80},{"t":48,"x":26.3,"v":92},{"t":48,"x":27.5,"v":80},{"t":48,"x":28.5,"v":70},{"t":48,"x":30,"v":60},{"t":48,"x":31.6,"v":54},{"t":48,"x":33,"v":47},{"t":48,"x":34.5,"v":39},{"t":48,"x":36,"v":32},{"t":48,"x":37.5,"v":27},{"t":48,"x":39,"v":24},{"t":48,"x":40.5,"v":22},{"t":48,"x":42,"v":21},{"t":48,"x":43.5,"v":25},{"t":48,"x":45,"v":33},{"t":48,"x":46.5,"v":43},{"t":48,"x":48,"v":49},{"t":48,"x":49.3,"v":50},{"t":48,"x":50.5,"v":48},{"t":48,"x":52,"v":41},{"t":48,"x":53.5,"v":34},{"t":48,"x":55,"v":28},{"t":48,"x":56.5,"v":21},{"t":48,"x":58,"v":15},{"t":48,"x":59.6,"v":11},{"t":48,"x":62,"v":8},{"t":48,"x":64,"v":6},{"t":48,"x":67,"v":4},{"t":48,"x":72,"v":2.5},{"t":48,"x":77,"v":1.8},{"t":48,"x":82,"v":1.5},{"t":48,"x":90,"v":1},{"t":48,"x":95,"v":0.7},{"t":48,"x":99,"v":0.5},{"t":48,"x":100,"v":0}
]
},
"vconcat":[
{"hconcat":[
{"width":131,"height":100,"view":{"stroke":null},"data":{"values":[{}]},"mark":{"type":"text","text":"A.","fontSize":45,"align":"left"},"encoding":{"x":{"datum":0,"type":"quantitative","scale":{"domain":[0,1]},"axis":null},"y":{"datum":0.58,"type":"quantitative","scale":{"domain":[0,1]},"axis":null}}},
{"width":381,"height":100,"view":{"stroke":null},"data":{"values":[{}]},
"layer":[
{"mark":{"type":"text","fontSize":45,"align":"center"},"encoding":{"x":{"datum":0.5,"type":"quantitative","scale":{"domain":[0,1]},"axis":null},"y":{"datum":0.41,"type":"quantitative","scale":{"domain":[0,1]},"axis":null},"text":{"value":"WT"}}},
{"mark":{"type":"rule","color":"#c8c8c8","strokeWidth":4,"opacity":0.7},"encoding":{"x":{"datum":0.092,"type":"quantitative"},"x2":{"datum":0.955},"y":{"datum":0.195,"type":"quantitative"}}},
{"mark":{"type":"rule","color":"#0000ff","strokeWidth":5},"encoding":{"x":{"datum":0.087,"type":"quantitative"},"x2":{"datum":0.953},"y":{"datum":0.22,"type":"quantitative"}}}
]},
{"width":383,"height":100,"view":{"stroke":null},"data":{"values":[{}]},
"layer":[
{"mark":{"type":"text","fontSize":45,"fontStyle":"italic","align":"center"},"encoding":{"x":{"datum":0.553,"type":"quantitative","scale":{"domain":[0,1]},"axis":null},"y":{"datum":0.41,"type":"quantitative","scale":{"domain":[0,1]},"axis":null},"text":{"value":"isw2Δ nhp10Δ"}}},
{"mark":{"type":"rule","color":"#c8c8c8","strokeWidth":4,"opacity":0.7},"encoding":{"x":{"datum":0.094,"type":"quantitative"},"x2":{"datum":0.952},"y":{"datum":0.195,"type":"quantitative"}}},
{"mark":{"type":"rule","color":"#ff0000","strokeWidth":5},"encoding":{"x":{"datum":0.089,"type":"quantitative"},"x2":{"datum":0.948},"y":{"datum":0.22,"type":"quantitative"}}}
]}
],"spacing":32},
{"hconcat":[
{"width":133,"height":10,"view":{"stroke":null},"data":{"values":[]},"mark":"point","encoding":{}},
{"concat":[
{"layer":[{"data":{"name":"wg"},"mark":"area","encoding":{"x":{"field":"x","type":"quantitative","scale":{"domain":[0,100]},"axis":null},"y":{"field":"g","type":"quantitative","scale":{"domain":[0,100]},"axis":null}}},{"data":{"name":"wl"},"transform":[{"filter":"datum.t==2"}],"mark":{"type":"line","color":"#4646ff"},"encoding":{"x":{"field":"x","type":"quantitative"},"y":{"field":"v","type":"quantitative"}}},{"data":{"values":[{}]},"mark":{"type":"text","text":"2"},"encoding":{"x":{"datum":94},"y":{"datum":78.5}}}]},
{"layer":[{"data":{"name":"wg"},"mark":"area","encoding":{"x":{"field":"x","type":"quantitative","scale":{"domain":[0,100]},"axis":null},"y":{"field":"g","type":"quantitative","scale":{"domain":[0,100]},"axis":null}}},{"data":{"name":"wl"},"transform":[{"filter":"datum.t==10"}],"mark":{"type":"line","color":"#4646ff"},"encoding":{"x":{"field":"x","type":"quantitative"},"y":{"field":"v","type":"quantitative"}}},{"data":{"values":[{}]},"mark":{"type":"text","text":"10"},"encoding":{"x":{"datum":94},"y":{"datum":78.5}}}]},
{"layer":[{"data":{"name":"wg"},"mark":"area","encoding":{"x":{"field":"x","type":"quantitative","scale":{"domain":[0,100]},"axis":null},"y":{"field":"g","type":"quantitative","scale":{"domain":[0,100]},"axis":null}}},{"data":{"name":"wl"},"transform":[{"filter":"datum.t==24"}],"mark":{"type":"line","color":"#4646ff"},"encoding":{"x":{"field":"x","type":"quantitative"},"y":{"field":"v","type":"quantitative"}}},{"data":{"values":[{}]},"mark":{"type":"text","text":"24"},"encoding":{"x":{"datum":94},"y":{"datum":78.5}}}]},
{"layer":[{"data":{"name":"wg"},"mark":"area","encoding":{"x":{"field":"x","type":"quantitative","scale":{"domain":[0,100]},"axis":null},"y":{"field":"g","type":"quantitative","scale":{"domain":[0,100]},"axis":null}}},{"data":{"name":"wl"},"transform":[{"filter":"datum.t==4"}],"mark":{"type":"line","color":"#4646ff"},"encoding":{"x":{"field":"x","type":"quantitative"},"y":{"field":"v","type":"quantitative"}}},{"data":{"values":[{}]},"mark":{"type":"text","text":"4"},"encoding":{"x":{"datum":94},"y":{"datum":78.5}}}]},
{"layer":[{"data":{"name":"wg"},"mark":"area","encoding":{"x":{"field":"x","type":"quantitative","scale":{"domain":[0,100]},"axis":null},"y":{"field":"g","type":"quantitative","scale":{"domain":[0,100]},"axis":null}}},{"data":{"name":"wl"},"transform":[{"filter":"datum.t==12"}],"mark":{"type":"line","color":"#4646ff"},"encoding":{"x":{"field":"x","type":"quantitative"},"y":{"field":"v","type":"quantitative"}}},{"data":{"values":[{}]},"mark":{"type":"text","text":"12"},"encoding":{"x":{"datum":94},"y":{"datum":78.5}}}]},
{"layer":[{"data":{"name":"wg"},"mark":"area","encoding":{"x":{"field":"x","type":"quantitative","scale":{"domain":[0,100]},"axis":null},"y":{"field":"g","type":"quantitative","scale":{"domain":[0,100]},"axis":null}}},{"data":{"name":"wl"},"transform":[{"filter":"datum.t==30"}],"mark":{"type":"line","color":"#4646ff"},"encoding":{"x":{"field":"x","type":"quantitative"},"y":{"field":"v","type":"quantitative"}}},{"data":{"values":[{}]},"mark":{"type":"text","text":"30"},"encoding":{"x":{"datum":94},"y":{"datum":78.5}}}]},
{"layer":[{"data":{"name":"wg"},"mark":"area","encoding":{"x":{"field":"x","type":"quantitative","scale":{"domain":[0,100]},"axis":null},"y":{"field":"g","type":"quantitative","scale":{"domain":[0,100]},"axis":null}}},{"data":{"name":"wl"},"transform":[{"filter":"datum.t==6"}],"mark":{"type":"line","color":"#4646ff"},"encoding":{"x":{"field":"x","type":"quantitative"},"y":{"field":"v","type":"quantitative"}}},{"data":{"values":[{}]},"mark":{"type":"text","text":"6"},"encoding":{"x":{"datum":94},"y":{"datum":78.5}}}]},
{"layer":[{"data":{"name":"wg"},"mark":"area","encoding":{"x":{"field":"x","type":"quantitative","scale":{"domain":[0,100]},"axis":null},"y":{"field":"g","type":"quantitative","scale":{"domain":[0,100]},"axis":null}}},{"data":{"name":"wl"},"transform":[{"filter":"datum.t==16"}],"mark":{"type":"line","color":"#4646ff"},"encoding":{"x":{"field":"x","type":"quantitative"},"y":{"field":"v","type":"quantitative"}}},{"data":{"values":[{}]},"mark":{"type":"text","text":"16"},"encoding":{"x":{"datum":94},"y":{"datum":78.5}}}]},
{"layer":[{"data":{"name":"wg"},"mark":"area","encoding":{"x":{"field":"x","type":"quantitative","scale":{"domain":[0,100]},"axis":null},"y":{"field":"g","type":"quantitative","scale":{"domain":[0,100]},"axis":null}}},{"data":{"name":"wl"},"transform":[{"filter":"datum.t==36"}],"mark":{"type":"line","color":"#4646ff"},"encoding":{"x":{"field":"x","type":"quantitative"},"y":{"field":"v","type":"quantitative"}}},{"data":{"values":[{}]},"mark":{"type":"text","text":"36"},"encoding":{"x":{"datum":94},"y":{"datum":78.5}}}]},
{"layer":[{"data":{"name":"wg"},"mark":"area","encoding":{"x":{"field":"x","type":"quantitative","scale":{"domain":[0,100]},"axis":null},"y":{"field":"g","type":"quantitative","scale":{"domain":[0,100]},"axis":null}}},{"data":{"name":"wl"},"transform":[{"filter":"datum.t==8"}],"mark":{"type":"line","color":"#4646ff"},"encoding":{"x":{"field":"x","type":"quantitative"},"y":{"field":"v","type":"quantitative"}}},{"data":{"values":[{}]},"mark":{"type":"text","text":"8"},"encoding":{"x":{"datum":94},"y":{"datum":78.5}}}]},
{"layer":[{"data":{"name":"wg"},"mark":"area","encoding":{"x":{"field":"x","type":"quantitative","scale":{"domain":[0,100]},"axis":null},"y":{"field":"g","type":"quantitative","scale":{"domain":[0,100]},"axis":null}}},{"data":{"name":"wl"},"transform":[{"filter":"datum.t==20"}],"mark":{"type":"line","color":"#4646ff"},"encoding":{"x":{"field":"x","type":"quantitative"},"y":{"field":"v","type":"quantitative"}}},{"data":{"values":[{}]},"mark":{"type":"text","text":"20"},"encoding":{"x":{"datum":94},"y":{"datum":78.5}}}]},
{"layer":[{"data":{"name":"wg"},"mark":"area","encoding":{"x":{"field":"x","type":"quantitative","scale":{"domain":[0,100]},"axis":null},"y":{"field":"g","type":"quantitative","scale":{"domain":[0,100]},"axis":null}}},{"data":{"name":"wl"},"transform":[{"filter":"datum.t==48"}],"mark":{"type":"line","color":"#4646ff"},"encoding":{"x":{"field":"x","type":"quantitative"},"y":{"field":"v","type":"quantitative"}}},{"data":{"values":[{}]},"mark":{"type":"text","text":"48"},"encoding":{"x":{"datum":94},"y":{"datum":78.5}}}]}
],"columns":3,"spacing":{"row":0,"column":21},"bounds":"flush"},
{"concat":[
{"layer":[{"data":{"name":"mg"},"mark":"area","encoding":{"x":{"field":"x","type":"quantitative","scale":{"domain":[0,100]},"axis":null},"y":{"field":"g","type":"quantitative","scale":{"domain":[0,100]},"axis":null}}},{"data":{"name":"ml"},"transform":[{"filter":"datum.t==2"}],"mark":{"type":"line","color":"#ff3a3a"},"encoding":{"x":{"field":"x","type":"quantitative"},"y":{"field":"v","type":"quantitative"}}},{"data":{"values":[{}]},"mark":{"type":"text","text":"2"},"encoding":{"x":{"datum":94},"y":{"datum":78.5}}}]},
{"layer":[{"data":{"name":"mg"},"mark":"area","encoding":{"x":{"field":"x","type":"quantitative","scale":{"domain":[0,100]},"axis":null},"y":{"field":"g","type":"quantitative","scale":{"domain":[0,100]},"axis":null}}},{"data":{"name":"ml"},"transform":[{"filter":"datum.t==10"}],"mark":{"type":"line","color":"#ff3a3a"},"encoding":{"x":{"field":"x","type":"quantitative"},"y":{"field":"v","type":"quantitative"}}},{"data":{"values":[{}]},"mark":{"type":"text","text":"10"},"encoding":{"x":{"datum":94},"y":{"datum":78.5}}}]},
{"layer":[{"data":{"name":"mg"},"mark":"area","encoding":{"x":{"field":"x","type":"quantitative","scale":{"domain":[0,100]},"axis":null},"y":{"field":"g","type":"quantitative","scale":{"domain":[0,100]},"axis":null}}},{"data":{"name":"ml"},"transform":[{"filter":"datum.t==24"}],"mark":{"type":"line","color":"#ff3a3a"},"encoding":{"x":{"field":"x","type":"quantitative"},"y":{"field":"v","type":"quantitative"}}},{"data":{"values":[{}]},"mark":{"type":"text","text":"24"},"encoding":{"x":{"datum":94},"y":{"datum":78.5}}}]},
{"layer":[{"data":{"name":"mg"},"mark":"area","encoding":{"x":{"field":"x","type":"quantitative","scale":{"domain":[0,100]},"axis":null},"y":{"field":"g","type":"quantitative","scale":{"domain":[0,100]},"axis":null}}},{"data":{"name":"ml"},"transform":[{"filter":"datum.t==4"}],"mark":{"type":"line","color":"#ff3a3a"},"encoding":{"x":{"field":"x","type":"quantitative"},"y":{"field":"v","type":"quantitative"}}},{"data":{"values":[{}]},"mark":{"type":"text","text":"4"},"encoding":{"x":{"datum":94},"y":{"datum":78.5}}}]},
{"layer":[{"data":{"name":"mg"},"mark":"area","encoding":{"x":{"field":"x","type":"quantitative","scale":{"domain":[0,100]},"axis":null},"y":{"field":"g","type":"quantitative","scale":{"domain":[0,100]},"axis":null}}},{"data":{"name":"ml"},"transform":[{"filter":"datum.t==12"}],"mark":{"type":"line","color":"#ff3a3a"},"encoding":{"x":{"field":"x","type":"quantitative"},"y":{"field":"v","type":"quantitative"}}},{"data":{"values":[{}]},"mark":{"type":"text","text":"12"},"encoding":{"x":{"datum":94},"y":{"datum":78.5}}}]},
{"layer":[{"data":{"name":"mg"},"mark":"area","encoding":{"x":{"field":"x","type":"quantitative","scale":{"domain":[0,100]},"axis":null},"y":{"field":"g","type":"quantitative","scale":{"domain":[0,100]},"axis":null}}},{"data":{"name":"ml"},"transform":[{"filter":"datum.t==30"}],"mark":{"type":"line","color":"#ff3a3a"},"encoding":{"x":{"field":"x","type":"quantitative"},"y":{"field":"v","type":"quantitative"}}},{"data":{"values":[{}]},"mark":{"type":"text","text":"30"},"encoding":{"x":{"datum":94},"y":{"datum":78.5}}}]},
{"layer":[{"data":{"name":"mg"},"mark":"area","encoding":{"x":{"field":"x","type":"quantitative","scale":{"domain":[0,100]},"axis":null},"y":{"field":"g","type":"quantitative","scale":{"domain":[0,100]},"axis":null}}},{"data":{"name":"ml"},"transform":[{"filter":"datum.t==6"}],"mark":{"type":"line","color":"#ff3a3a"},"encoding":{"x":{"field":"x","type":"quantitative"},"y":{"field":"v","type":"quantitative"}}},{"data":{"values":[{}]},"mark":{"type":"text","text":"6"},"encoding":{"x":{"datum":94},"y":{"datum":78.5}}}]},
{"layer":[{"data":{"name":"mg"},"mark":"area","encoding":{"x":{"field":"x","type":"quantitative","scale":{"domain":[0,100]},"axis":null},"y":{"field":"g","type":"quantitative","scale":{"domain":[0,100]},"axis":null}}},{"data":{"name":"ml"},"transform":[{"filter":"datum.t==16"}],"mark":{"type":"line","color":"#ff3a3a"},"encoding":{"x":{"field":"x","type":"quantitative"},"y":{"field":"v","type":"quantitative"}}},{"data":{"values":[{}]},"mark":{"type":"text","text":"16"},"encoding":{"x":{"datum":94},"y":{"datum":78.5}}}]},
{"layer":[{"data":{"name":"mg"},"mark":"area","encoding":{"x":{"field":"x","type":"quantitative","scale":{"domain":[0,100]},"axis":null},"y":{"field":"g","type":"quantitative","scale":{"domain":[0,100]},"axis":null}}},{"data":{"name":"ml"},"transform":[{"filter":"datum.t==36"}],"mark":{"type":"line","color":"#ff3a3a"},"encoding":{"x":{"field":"x","type":"quantitative"},"y":{"field":"v","type":"quantitative"}}},{"data":{"values":[{}]},"mark":{"type":"text","text":"36"},"encoding":{"x":{"datum":94},"y":{"datum":78.5}}}]},
{"layer":[{"data":{"name":"mg"},"mark":"area","encoding":{"x":{"field":"x","type":"quantitative","scale":{"domain":[0,100]},"axis":null},"y":{"field":"g","type":"quantitative","scale":{"domain":[0,100]},"axis":null}}},{"data":{"name":"ml"},"transform":[{"filter":"datum.t==8"}],"mark":{"type":"line","color":"#ff3a3a"},"encoding":{"x":{"field":"x","type":"quantitative"},"y":{"field":"v","type":"quantitative"}}},{"data":{"values":[{}]},"mark":{"type":"text","text":"8"},"encoding":{"x":{"datum":94},"y":{"datum":78.5}}}]},
{"layer":[{"data":{"name":"mg"},"mark":"area","encoding":{"x":{"field":"x","type":"quantitative","scale":{"domain":[0,100]},"axis":null},"y":{"field":"g","type":"quantitative","scale":{"domain":[0,100]},"axis":null}}},{"data":{"name":"ml"},"transform":[{"filter":"datum.t==20"}],"mark":{"type":"line","color":"#ff3a3a"},"encoding":{"x":{"field":"x","type":"quantitative"},"y":{"field":"v","type":"quantitative"}}},{"data":{"values":[{}]},"mark":{"type":"text","text":"20"},"encoding":{"x":{"datum":94},"y":{"datum":78.5}}}]},
{"layer":[{"data":{"name":"mg"},"mark":"area","encoding":{"x":{"field":"x","type":"quantitative","scale":{"domain":[0,100]},"axis":null},"y":{"field":"g","type":"quantitative","scale":{"domain":[0,100]},"axis":null}}},{"data":{"name":"ml"},"transform":[{"filter":"datum.t==48"}],"mark":{"type":"line","color":"#ff3a3a"},"encoding":{"x":{"field":"x","type":"quantitative"},"y":{"field":"v","type":"quantitative"}}},{"data":{"values":[{}]},"mark":{"type":"text","text":"48"},"encoding":{"x":{"datum":94},"y":{"datum":78.5}}}]}
],"columns":3,"spacing":{"row":0,"column":22},"bounds":"flush"}
],"spacing":26.5}
]
}
